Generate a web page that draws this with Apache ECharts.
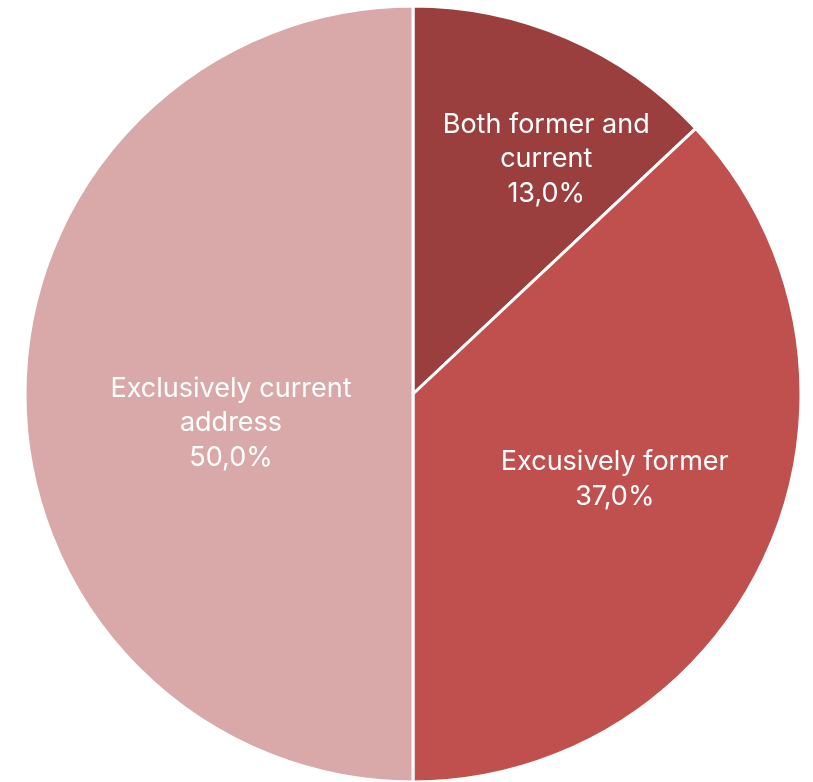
<!DOCTYPE html>
<html>
<head>
<meta charset="utf-8">
<script src="https://cdn.jsdelivr.net/npm/echarts@6/dist/echarts.min.js"></script>
<style>
  html, body { margin: 0; padding: 0; background: #ffffff; }
  #chart { width: 813px; height: 782px; }
</style>
</head>
<body>
<div id="chart"></div>
<script>
// Share of address types, clockwise from 12 o'clock
const categories = ['Both former and\ncurrent', 'Excusively former', 'Exclusively current\naddress'];
const values = [13.0, 37.0, 50.0];
const colors = ['#9b3e3e', '#c0504d', '#d9a9a9'];
const labelOffsets = [[55, -54], [21, 7], [15, 29]];

const chart = echarts.init(document.getElementById('chart'), null, { renderer: 'canvas' });

const data = categories.map((name, i) => ({
  name,
  value: values[i],
  itemStyle: { color: colors[i] },
  label: { offset: labelOffsets[i] }
}));

chart.setOption({
  animation: false,
  series: [{
    type: 'pie',
    center: [413, 394],
    radius: [0, 388],
    startAngle: 90,
    clockwise: true,
    avoidLabelOverlap: false,
    itemStyle: { borderColor: '#ffffff', borderWidth: 3 },
    label: {
      show: true,
      position: 'inside',
      color: '#ffffff',
      fontFamily: 'Inter',
      fontWeight: 'normal',
      fontSize: 27,
      lineHeight: 34.5,
      align: 'center',
      formatter: p => p.name + '\n' + p.value.toFixed(1).replace('.', ',') + '%'
    },
    labelLine: { show: false },
    emphasis: { disabled: true },
    data
  }]
});
</script>
</body>
</html>
